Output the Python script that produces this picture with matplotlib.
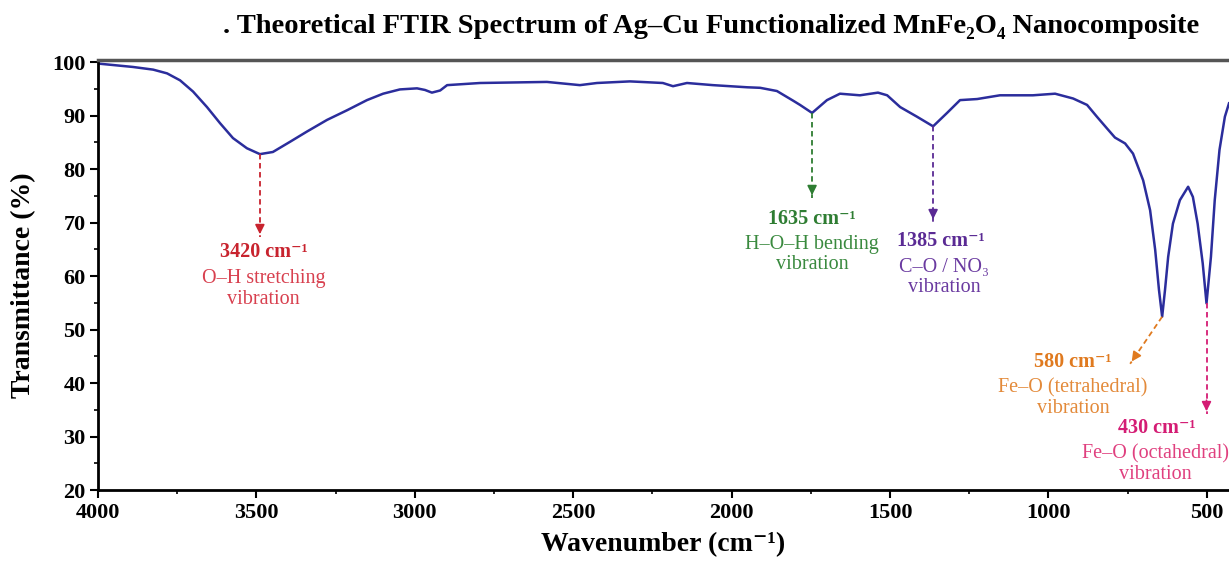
import matplotlib
matplotlib.use("Agg")
import matplotlib.pyplot as plt
from matplotlib.ticker import MultipleLocator

plt.rcParams['font.family'] = ['Liberation Serif', 'DejaVu Serif']

# spectrum
wavenumber = [4000, 3994, 3890, 3826, 3782, 3741, 3700, 3656, 3615, 3574, 3530,
              3489, 3448, 3394, 3341, 3277, 3214, 3151, 3100, 3047, 2993, 2968,
              2946, 2920, 2898, 2794, 2583, 2479, 2425, 2321, 2217, 2185, 2141,
              2059, 1951, 1910, 1857, 1806, 1784, 1746, 1699, 1658, 1595, 1538,
              1509, 1468, 1415, 1364, 1320, 1279, 1225, 1184, 1153, 1049, 979,
              922, 878, 847, 815, 790, 758, 733, 701, 679, 663, 651, 641, 632,
              622, 607, 585, 559, 544, 529, 513, 501, 487, 475, 460, 443, 430]
transmittance = [99.6, 99.7, 99.1, 98.6, 97.9, 96.6, 94.5, 91.6, 88.6, 85.8, 83.9,
                 82.8, 83.2, 85.1, 87.0, 89.2, 91.0, 92.9, 94.1, 94.9, 95.1, 94.8,
                 94.3, 94.7, 95.7, 96.1, 96.3, 95.7, 96.1, 96.4, 96.1, 95.5, 96.1,
                 95.7, 95.3, 95.2, 94.6, 92.8, 92.0, 90.5, 92.9, 94.1, 93.8, 94.3,
                 93.8, 91.6, 89.8, 88.0, 90.5, 92.9, 93.1, 93.5, 93.8, 93.8, 94.1,
                 93.2, 92.0, 89.8, 87.6, 85.9, 84.8, 82.9, 77.9, 72.3, 64.9, 57.4,
                 52.4, 57.4, 63.6, 69.8, 74.2, 76.7, 74.8, 69.8, 62.4, 54.9, 63.6,
                 74.2, 83.6, 89.8, 92.3]

# annotations
peak_labels = ['3420 cm⁻¹', '1635 cm⁻¹', '1385 cm⁻¹', '580 cm⁻¹', '430 cm⁻¹']
peak_desc = ['O–H stretching\nvibration', 'H–O–H bending\nvibration',
             'C–O / NO₃\nvibration', 'Fe–O (tetrahedral)\nvibration',
             'Fe–O (octahedral)\nvibration']
peak_x = [3489, 1746, 1364, 641, 501]
peak_y = [82.8, 90.5, 88.0, 52.4, 54.9]
tip_x = [3489, 1746, 1364, 742, 501]
tip_y = [67.3, 74.6, 70.1, 43.6, 34.2]
label_x = [3478, 1746, 1339, 922, 657]
label_y = [64.5, 70.7, 66.5, 43.9, 31.6]
desc_x = [3478, 1746, 1330, 922, 663]
desc_y = [57.6, 64.0, 59.7, 37.2, 24.9]
label_colors = ['#c8232e', '#2e7d32', '#5a2a94', '#e07a1f', '#d41c74']
desc_colors = ['#d8404f', '#3a8a3f', '#6a3aa0', '#e38a3a', '#e0407f']

fig = plt.figure(figsize=(12.29, 5.62), dpi=100)
ax = fig.add_axes([98 / 1229, 1 - 490 / 562, 1 - 98 / 1229, 430 / 562])

ax.plot(wavenumber, transmittance, color='#2b2d9c', lw=1.8)

for i in range(len(peak_labels)):
    c = label_colors[i]
    ax.plot([peak_x[i], tip_x[i]], [peak_y[i], tip_y[i]], ls=(0, (3, 2)), color=c, lw=1.3)
    dx = (tip_x[i] - peak_x[i]) * 0.15
    dy = (tip_y[i] - peak_y[i]) * 0.15
    ax.annotate('', xy=(tip_x[i], tip_y[i]), xytext=(tip_x[i] - dx, tip_y[i] - dy),
                arrowprops=dict(arrowstyle='-|>', color=c, lw=1.2, mutation_scale=14))
    ax.text(label_x[i], label_y[i], peak_labels[i], color=c, fontsize=14.5,
            fontweight='bold', ha='center', va='center')
    ax.text(desc_x[i], desc_y[i], peak_desc[i], color=desc_colors[i], fontsize=14.5,
            ha='center', va='center', linespacing=1.1)

ax.set_xlim(4000, 430)
ax.set_ylim(20, 100.4)
ax.xaxis.set_major_locator(MultipleLocator(500))
ax.xaxis.set_minor_locator(MultipleLocator(250))
ax.yaxis.set_major_locator(MultipleLocator(10))
ax.yaxis.set_minor_locator(MultipleLocator(5))
ax.tick_params(which='major', direction='out', length=6, width=1.5, labelsize=16, pad=3)
ax.tick_params(which='minor', direction='out', length=3, width=1.2)
for lab in ax.get_xticklabels() + ax.get_yticklabels():
    lab.set_fontweight('bold')

ax.spines['left'].set_linewidth(2)
ax.spines['bottom'].set_linewidth(2)
ax.spines['top'].set_linewidth(2.5)
ax.spines['top'].set_color('#555555')
ax.spines['right'].set_visible(False)

ax.set_xlabel('Wavenumber (cm⁻¹)', fontsize=20, fontweight='bold', va='center')
ax.set_ylabel('Transmittance (%)', fontsize=20, fontweight='bold', va='center')
ax.xaxis.set_label_coords(0.5, -0.128)
ax.yaxis.set_label_coords(-0.066, 0.477)

fig.text(0.5785, 0.952, '. Theoretical FTIR Spectrum of Ag–Cu Functionalized MnFe₂O₄ Nanocomposite',
         ha='center', va='center', fontsize=20.5, fontweight='bold')

fig.savefig('out.png', dpi=100)
